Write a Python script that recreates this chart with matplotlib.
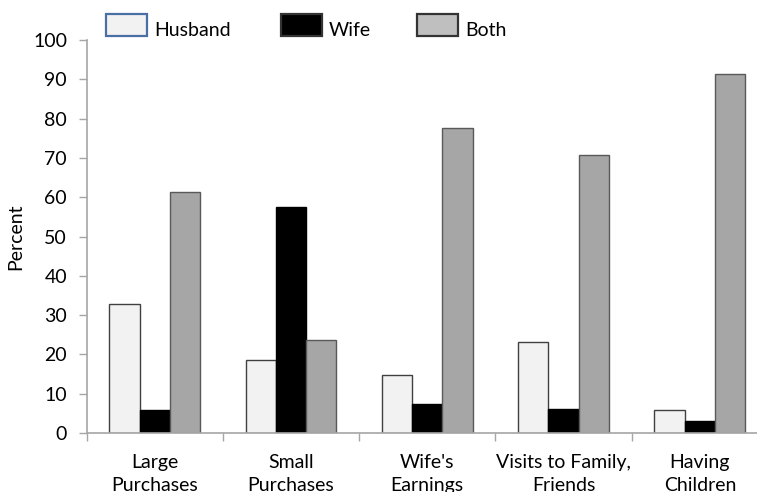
import matplotlib
matplotlib.use("Agg")
import matplotlib.pyplot as plt
import numpy as np
from matplotlib.patches import Rectangle

plt.rcParams['font.family'] = ['Lato', 'DejaVu Sans']

categories = ["Large\nPurchases", "Small\nPurchases", "Wife's\nEarnings",
              "Visits to Family,\nFriends", "Having\nChildren"]
husband = [32.8, 18.5, 14.8, 23.1, 5.8]
wife = [5.9, 57.5, 7.4, 6.1, 3.0]
both = [61.2, 23.7, 77.6, 70.7, 91.3]
series_names = ["Husband", "Wife", "Both"]

W, H = 757, 492
fig = plt.figure(figsize=(W/100, H/100), dpi=100)
ax = fig.add_axes([86.5/W, (H-433)/H, (768-86.5)/W, (433-40)/H])

x = np.arange(len(categories))
w = 0.222
face = ["#f2f2f2", "#000000", "#a6a6a6"]
edge = ["#404040", "#000000", "#595959"]
for i, vals in enumerate([husband, wife, both]):
    ax.bar(x + (i - 1) * w, vals, w, color=face[i], edgecolor=edge[i], linewidth=1.0)

ax.set_xlim(-0.5, len(categories) - 0.5)
ax.set_ylim(0, 100)
ax.set_yticks(np.arange(0, 101, 10))
ax.set_xticks(np.arange(-0.5, len(categories), 1.0))
ax.set_xticklabels([])
ax.set_xticks(x, minor=True)
ax.set_xticklabels(categories, minor=True, fontsize=14, linespacing=1.45)
ax.tick_params(axis='x', which='minor', length=0, pad=15)
ax.tick_params(axis='x', which='major', length=6, color="#a6a6a6", width=1)
ax.tick_params(axis='y', length=6, color="#a6a6a6", width=1, labelsize=14, pad=8)

for s in ['top', 'right']:
    ax.spines[s].set_visible(False)
for s in ['left', 'bottom']:
    ax.spines[s].set_color("#a6a6a6")
    ax.spines[s].set_linewidth(1.2)

ax.set_ylabel("Percent", fontsize=14, labelpad=6)

# legend drawn in figure pixel coordinates
leg_face = ["#f2f2f2", "#000000", "#bfbfbf"]
leg_edge = ["#4a6fa5", "#333333", "#333333"]
box_x = [106, 281, 417]
for i, name in enumerate(series_names):
    fig.patches.append(Rectangle((box_x[i]/W, 1 - 36/H), 41/W, 22/H,
                                 transform=fig.transFigure, facecolor=leg_face[i],
                                 edgecolor=leg_edge[i], linewidth=1.6))
    fig.text((box_x[i] + 48)/W, 1 - 36/H, name, fontsize=14, va='baseline', ha='left')

fig.savefig("out.png", dpi=100)
